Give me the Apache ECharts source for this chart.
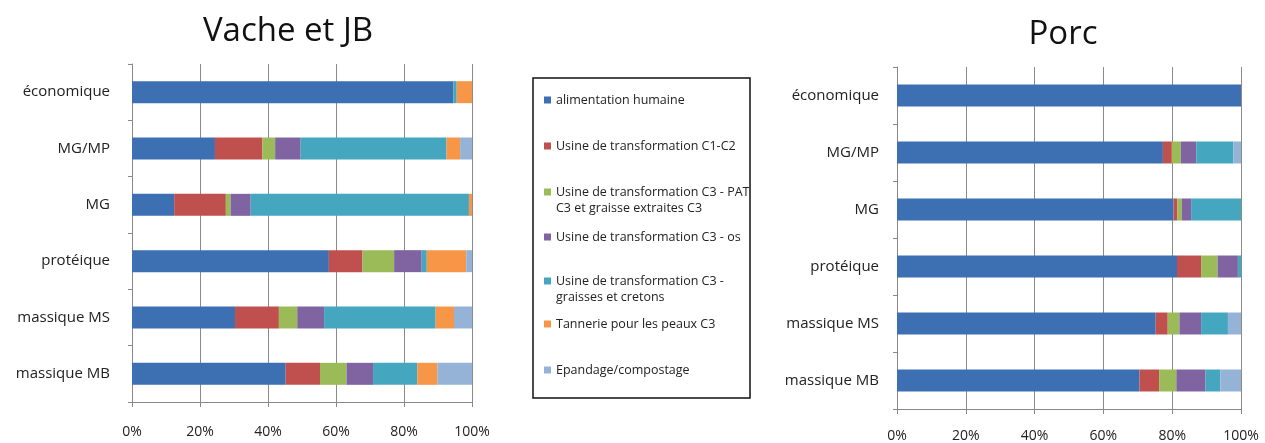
<!DOCTYPE html>
<html><head><meta charset="utf-8">
<script src="https://cdn.jsdelivr.net/npm/echarts@6/dist/echarts.min.js"></script>
<style>html,body{margin:0;padding:0;background:#fff}#c{width:1265px;height:443px}</style>
</head><body><div id="c"></div>
<script>
const categories = ['économique','MG/MP','MG','protéique','massique MS','massique MB'];
const seriesNames = ['alimentation humaine','Usine de transformation C1-C2','Usine de transformation C3 - PAT\nC3 et graisse extraites C3','Usine de transformation C3 - os','Usine de transformation C3 -\ngraisses et cretons','Tannerie pour les peaux C3','Epandage/compostage'];
const xTicks = [0,20,40,60,80,100];
// Vache et JB (per category, %)
const vacheAlim     = [94.5, 24.4, 12.4, 57.9, 30.3, 45.2];
const vacheC1C2     = [0,    13.9, 15.2,  9.9, 12.9, 10.1];
const vacheC3PAT    = [0,     3.8,  1.4,  9.3,  5.4,  7.8];
const vacheC3os     = [0,     7.5,  5.9,  8.1,  7.9,  7.8];
const vacheC3graiss = [1.0,  42.9, 64.2,  1.5, 32.8, 13.0];
const vacheTannerie = [4.5,   4.0,  0.9, 11.6,  5.4,  5.9];
const vacheEpandage = [0,     3.5,  0,    1.7,  5.3, 10.2];
// Porc
const porcAlim     = [100, 77.3, 80.4, 81.4, 75.2, 70.5];
const porcC1C2     = [0,    2.6,  1.1,  7.0,  3.5,  5.7];
const porcC3PAT    = [0,    2.6,  1.3,  4.8,  3.4,  5.0];
const porcC3os     = [0,    4.5,  2.7,  5.9,  6.3,  8.5];
const porcC3graiss = [0,   10.8, 14.5,  0.9,  7.8,  4.3];
const porcTannerie = [0,    0,    0,    0,    0,    0];
const porcEpandage = [0,    2.2,  0,    0,    3.8,  6.0];

const colors = ['#3D6FB3','#C0504D','#9BBB59','#8064A2','#45A6C0','#F79646','#95B3D7'];
const vache = [vacheAlim,vacheC1C2,vacheC3PAT,vacheC3os,vacheC3graiss,vacheTannerie,vacheEpandage];
const porc = [porcAlim,porcC1C2,porcC3PAT,porcC3os,porcC3graiss,porcTannerie,porcEpandage];

const font = 'Open Sans';
function xAxis(gi, labelMargin){
  return {gridIndex:gi,type:'value',min:0,max:100,interval:20,
    axisLabel:{formatter:'{value}%',color:'#222',fontSize:14,fontFamily:font,margin:labelMargin},
    axisLine:{show:true,lineStyle:{color:'#888'}},
    axisTick:{show:true,length:5,lineStyle:{color:'#888'}},
    splitLine:{show:true,lineStyle:{color:'#8a8a8a',width:1}}};
}
function yAxis(gi, margin){
  return {gridIndex:gi,type:'category',data:categories,inverse:true,
    axisLabel:{color:'#222',fontSize:15,fontFamily:font,margin:margin},
    axisLine:{show:true,lineStyle:{color:'#888'}},
    axisTick:{show:true,length:4,lineStyle:{color:'#888'}},
    splitLine:{show:false}};
}
const series = [];
seriesNames.forEach((n,i)=>{
  series.push({name:n,type:'bar',stack:'v',xAxisIndex:0,yAxisIndex:0,barWidth:22,
    itemStyle:{color:colors[i]},data:vache[i]});
});
seriesNames.forEach((n,i)=>{
  series.push({name:n,type:'bar',stack:'p',xAxisIndex:1,yAxisIndex:1,barWidth:22,
    itemStyle:{color:colors[i]},data:porc[i]});
});
const lineH = 16;
const legendTops = [92,138,184,229,273,316,362];
const legends = seriesNames.map((n,i)=>{
  const lines = n.split('\n').length;
  const h = lines*lineH;
  const icon = lines>1 ? 'path://M0,0h0.01M0,4.5h7v7h-7zM0,'+h+'h0.01' : 'rect';
  return {
    data:[{name:n,icon:icon}],left:544,top:legendTops[i],padding:0,orient:'vertical',
    itemWidth:7,itemHeight:lines>1?h:7,itemGap:4,selectedMode:false,
    textStyle:{fontSize:12.5,fontFamily:font,color:'#222',lineHeight:lineH}
  };
});
const chart = echarts.init(document.getElementById('c'),null,{renderer:'canvas'});
chart.setOption({
  animation:false,
  backgroundColor:'#fff',
  title:[
    {text:'Vache et JB',left:283,top:10,textAlign:'center',textStyle:{fontSize:33,fontWeight:'normal',fontFamily:font,color:'#111'}},
    {text:'Porc',left:1058,top:13,textAlign:'center',textStyle:{fontSize:33,fontWeight:'normal',fontFamily:font,color:'#111'}}
  ],
  legend:legends,
  graphic:[{type:'rect',shape:{x:533,y:78,width:217,height:320},style:{fill:'none',stroke:'#111',lineWidth:1.5}}],
  grid:[
    {left:132,right:793,top:64,bottom:41,containLabel:false},
    {left:897,right:24,top:67,bottom:34,containLabel:false}
  ],
  xAxis:[xAxis(0,23),xAxis(1,20)],
  yAxis:[yAxis(0,22),yAxis(1,18)],
  series:series
});
</script></body></html>
